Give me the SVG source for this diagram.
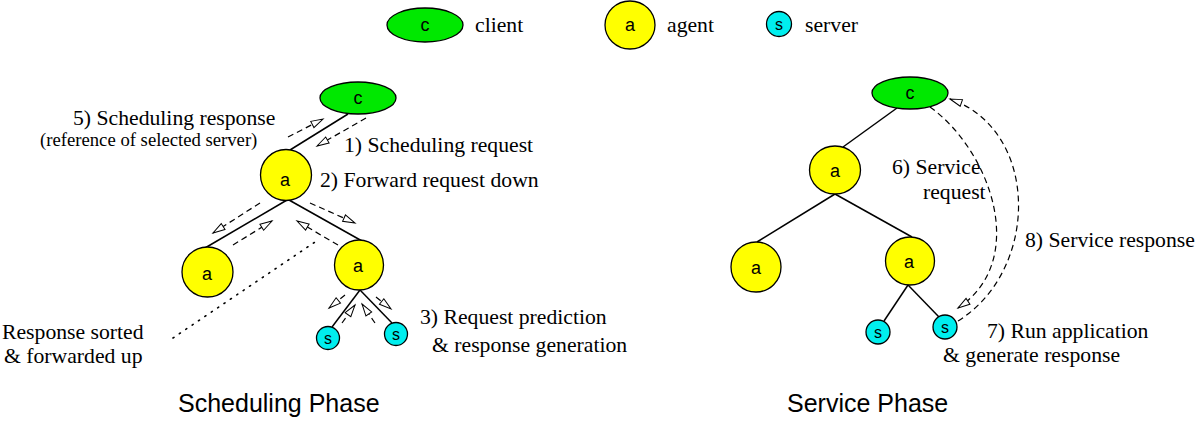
<svg xmlns="http://www.w3.org/2000/svg" width="1198" height="422" viewBox="0 0 1198 422">
<style>
.bg{fill:#fff}
.cl{fill:#00e800;stroke:#000;stroke-width:1.3}
.ag{fill:#ffff00;stroke:#000;stroke-width:1.3}
.sv{fill:#00eeee;stroke:#000;stroke-width:1.3}
.nl{font-family:"Liberation Sans",Arial,sans-serif;font-size:18px;text-anchor:middle;fill:#000}
.ns{font-family:"Liberation Sans",Arial,sans-serif;font-size:16px;text-anchor:middle;fill:#000}
.edge{stroke:#000;stroke-width:1.5;fill:none}
.msg{stroke:#000;stroke-width:1.2;fill:none;stroke-dasharray:6 4;marker-end:url(#ah)}
.dot{stroke:#000;stroke-width:1.6;fill:none;stroke-dasharray:1.2 6.5;stroke-linecap:round}
.lb{font-family:"Liberation Serif","Times New Roman",serif;font-size:21.7px;fill:#000}
.sm{font-family:"Liberation Serif","Times New Roman",serif;font-size:18.7px;fill:#000}
.ph{font-family:"Liberation Sans",Arial,sans-serif;font-size:25px;fill:#000}
</style>
<defs>
<marker id="ah" markerUnits="userSpaceOnUse" markerWidth="14" markerHeight="10" refX="12" refY="4" orient="auto" overflow="visible">
<path d="M0,0.5 L12,4 L0,7.5 Z" fill="#fff" stroke="#000" stroke-width="1"/>
</marker>
</defs>
<rect class="bg" x="0" y="0" width="1198" height="422"/>

<g id="legend">
<g id="legend-client"><ellipse class="cl" cx="425" cy="25" rx="38" ry="17"/><text class="nl" x="425" y="31">c</text><text class="lb" x="475" y="32">client</text></g>
<g id="legend-agent"><ellipse class="ag" cx="630" cy="25" rx="25" ry="24"/><text class="nl" x="630" y="31">a</text><text class="lb" x="667" y="32">agent</text></g>
<g id="legend-server"><circle class="sv" cx="779" cy="24" r="12.5"/><text class="ns" x="779" y="30">s</text><text class="lb" x="805" y="32">server</text></g>
</g>

<g id="connectors">
<line class="edge" x1="348" y1="114" x2="290" y2="150"/>
<line class="edge" x1="287" y1="200" x2="205" y2="248"/>
<line class="edge" x1="289" y1="200" x2="362" y2="241"/>
<line class="edge" x1="360" y1="290" x2="332" y2="327"/>
<line class="edge" x1="360" y1="290" x2="392" y2="323"/>
<line class="msg" x1="288" y1="137" x2="323" y2="119"/>
<line class="msg" x1="366" y1="118" x2="317" y2="146"/>
<line class="msg" x1="260" y1="203" x2="213" y2="233"/>
<line class="msg" x1="233" y1="245" x2="272" y2="221"/>
<line class="msg" x1="310" y1="203" x2="355" y2="223"/>
<line class="msg" x1="338" y1="245" x2="297" y2="221"/>
<line class="msg" x1="345" y1="295" x2="329" y2="308"/>
<line class="msg" x1="342" y1="323" x2="355" y2="305"/>
<line class="msg" x1="375" y1="323" x2="362" y2="304"/>
<line class="msg" x1="376" y1="297" x2="391" y2="309"/>
<line class="dot" x1="173" y1="338" x2="318" y2="240"/>
<line class="edge" x1="897" y1="108" x2="843" y2="147"/>
<line class="edge" x1="835" y1="194" x2="757" y2="242"/>
<line class="edge" x1="835" y1="194" x2="912" y2="237"/>
<line class="edge" x1="908" y1="285" x2="884" y2="321"/>
<line class="edge" x1="908" y1="285" x2="939" y2="317"/>
<path class="msg" d="M930,107 C990,150 1030,260 958,308"/>
<path class="msg" d="M958,321 C1040,270 1040,130 950,99"/>
</g>

<g id="left-client"><ellipse class="cl" cx="358" cy="98" rx="38" ry="16"/><text class="nl" x="358" y="104">c</text></g>
<g id="left-agent-top"><ellipse class="ag" cx="286" cy="175" rx="25.5" ry="25.5"/><text class="nl" x="285" y="186">a</text></g>
<g id="left-agent-left"><ellipse class="ag" cx="207.5" cy="272" rx="25.5" ry="25"/><text class="nl" x="207" y="280">a</text></g>
<g id="left-agent-right"><ellipse class="ag" cx="359" cy="265" rx="24.5" ry="25"/><text class="nl" x="358" y="272">a</text></g>
<g id="left-server-1"><circle class="sv" cx="328" cy="338" r="11.5"/><text class="ns" x="328" y="344">s</text></g>
<g id="left-server-2"><circle class="sv" cx="396" cy="334" r="11.5"/><text class="ns" x="396" y="340">s</text></g>

<g id="right-client"><ellipse class="cl" cx="910" cy="93" rx="38" ry="16"/><text class="nl" x="910" y="99">c</text></g>
<g id="right-agent-top"><ellipse class="ag" cx="835" cy="170" rx="25.5" ry="24"/><text class="nl" x="835" y="177">a</text></g>
<g id="right-agent-left"><ellipse class="ag" cx="756" cy="267" rx="25" ry="25"/><text class="nl" x="756" y="274">a</text></g>
<g id="right-agent-right"><ellipse class="ag" cx="910" cy="261" rx="24.5" ry="24"/><text class="nl" x="909" y="268">a</text></g>
<g id="right-server-1"><circle class="sv" cx="878" cy="332" r="12"/><text class="ns" x="878" y="338">s</text></g>
<g id="right-server-2"><circle class="sv" cx="945" cy="327" r="12"/><text class="ns" x="945" y="333">s</text></g>

<g id="labels">
<text class="lb" x="73" y="125">5) Scheduling response</text>
<text class="sm" x="40" y="146">(reference of selected server)</text>
<text class="lb" x="344" y="152">1) Scheduling request</text>
<text class="lb" x="320" y="187">2) Forward request down</text>
<text class="lb" x="2" y="339">Response sorted</text>
<text class="lb" x="4" y="363">&amp; forwarded up</text>
<text class="lb" x="420" y="324">3) Request prediction</text>
<text class="lb" x="432" y="352">&amp; response generation</text>
<text class="lb" x="892" y="174">6) Service</text>
<text class="lb" x="923" y="199">request</text>
<text class="lb" x="1025" y="247">8) Service response</text>
<text class="lb" x="987" y="338">7) Run application</text>
<text class="lb" x="943" y="362">&amp; generate response</text>
<text class="ph" x="178" y="412">Scheduling Phase</text>
<text class="ph" x="787" y="412">Service Phase</text>
</g>
</svg>
